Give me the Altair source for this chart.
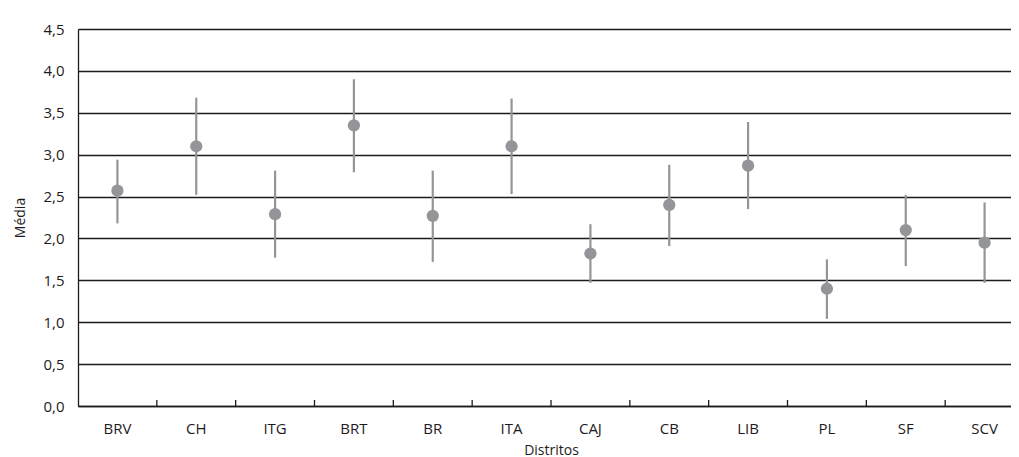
import altair as alt
import pandas as pd

districts = ["BRV", "CH", "ITG", "BRT", "BR", "ITA", "CAJ", "CB", "LIB", "PL", "SF", "SCV"]
means = [2.57, 3.10, 2.29, 3.35, 2.27, 3.10, 1.82, 2.40, 2.87, 1.40, 2.10, 1.95]
lower = [2.18, 2.52, 1.77, 2.79, 1.72, 2.53, 1.47, 1.91, 2.35, 1.04, 1.67, 1.47]
upper = [2.94, 3.68, 2.81, 3.90, 2.81, 3.67, 2.17, 2.88, 3.39, 1.75, 2.52, 2.43]
y_ticks = [0.0, 0.5, 1.0, 1.5, 2.0, 2.5, 3.0, 3.5, 4.0, 4.5]

df = pd.DataFrame({"Distrito": districts, "Media": means, "lo": lower, "hi": upper})

FONT = "Open Sans"
TXT = "#1e1b1c"
GRAY = "#939598"
W, H = 933, 377

x_scale = alt.Scale(domain=districts, range=[0, 946], paddingInner=0, paddingOuter=0)
y_scale = alt.Scale(domain=[0, 4.5], nice=False, zero=True)

x_axis = alt.Axis(
    title="Distritos", ticks=False, labelAngle=0, labelPadding=15,
    labelFontSize=15, labelColor=TXT, labelFont=FONT, labelFontWeight=500,
    titleFontSize=14, titleColor=TXT, titleFont=FONT, titleFontWeight=500,
    titleY=44, titleBaseline="middle",
    domainColor=TXT, domainWidth=1.3, grid=False,
)
y_axis = alt.Axis(
    title="Média", values=y_ticks, ticks=False, labelPadding=14,
    labelExpr="replace(format(datum.value, '.1f'), '.', ',')",
    labelFontSize=15, labelColor=TXT, labelFont=FONT, labelFontWeight=500,
    titleFontSize=14, titleColor=TXT, titleFont=FONT, titleFontWeight=500,
    titleX=-58, titleBaseline="middle",
    domainColor=TXT, domainWidth=1.3,
    grid=True, gridColor=TXT, gridWidth=1.4, gridOpacity=1,
)

base = alt.Chart(df)

bars = base.mark_rule(color=GRAY, strokeWidth=2.2).encode(
    x=alt.X("Distrito:N", scale=x_scale, axis=x_axis, sort=districts),
    y=alt.Y("lo:Q", scale=y_scale, axis=y_axis),
    y2="hi:Q",
)

points = base.mark_circle(color=GRAY, opacity=1, size=150).encode(
    x=alt.X("Distrito:N", scale=x_scale, sort=districts),
    y=alt.Y("Media:Q", scale=y_scale),
)

ticks = alt.Chart(pd.DataFrame({"Distrito": districts[1:]})).mark_rule(
    color=TXT, strokeWidth=1.3
).encode(
    x=alt.X("Distrito:N", scale=x_scale, sort=districts, bandPosition=0),
    y=alt.value(H),
    y2=alt.value(H - 6),
)

chart = alt.layer(bars, points, ticks).properties(
    width=W, height=H,
    autosize=alt.AutoSizeParams(type="none"),
    padding={"left": 70, "top": 21, "right": 0, "bottom": 51},
).configure_view(stroke=None).configure(background="white")

chart.save("out.html", embed_options={"renderer": "svg", "actions": False})
